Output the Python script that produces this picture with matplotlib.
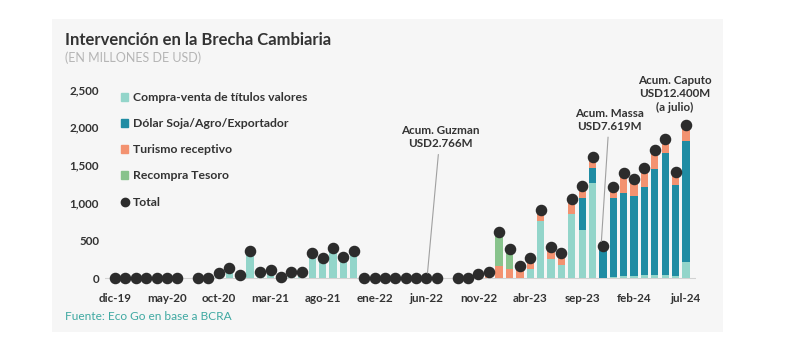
import numpy as np
import matplotlib
matplotlib.use('Agg')
import matplotlib.pyplot as plt
from matplotlib.patches import Rectangle, Patch
from matplotlib.lines import Line2D

plt.rcParams['font.family'] = ['Lato', 'DejaVu Sans']

nan = np.nan

meses = ['dic-19',
         'ene-20', 'feb-20', 'mar-20', 'abr-20', 'may-20', 'jun-20',
         'jul-20', 'ago-20', 'sep-20', 'oct-20', 'nov-20', 'dic-20',
         'ene-21', 'feb-21', 'mar-21', 'abr-21', 'may-21', 'jun-21',
         'jul-21', 'ago-21', 'sep-21', 'oct-21', 'nov-21', 'dic-21',
         'ene-22', 'feb-22', 'mar-22', 'abr-22', 'may-22', 'jun-22',
         'jul-22', 'ago-22', 'sep-22', 'oct-22', 'nov-22', 'dic-22',
         'ene-23', 'feb-23', 'mar-23', 'abr-23', 'may-23', 'jun-23',
         'jul-23', 'ago-23', 'sep-23', 'oct-23', 'nov-23', 'dic-23',
         'ene-24', 'feb-24', 'mar-24', 'abr-24', 'may-24', 'jun-24',
         'jul-24']

# millones de USD (nan = mes sin dato)
compra_venta = [0,
                0, 0, 0, 0, 0, 0,
                nan, 0, 5, 66, 132, 44,
                361, 87, 110, 21, 79, 87,
                330, 265, 405, 278, 361, 0,
                0, 0, 0, 0, 5, 0,
                0, nan, 0, 0, 0, 0,
                0, 0, 0, 120, 760, 250,
                176, 850, 640, 1265, 10, 20,
                30, 30, 45, 45, 45, 35,
                220]
dolar_soja = [0,
              0, 0, 0, 0, 0, 0,
              nan, 0, 0, 0, 0, 0,
              0, 0, 0, 0, 0, 0,
              0, 0, 0, 0, 0, 0,
              0, 0, 0, 0, 0, 0,
              0, nan, 0, 0, 0, 0,
              0, 0, 0, 0, 0, 0,
              0, 0, 430, 190, 390, 1038,
              1094, 1063, 1167, 1397, 1608, 1199,
              1600]
turismo = [0,
           0, 0, 0, 0, 0, 0,
           nan, 0, 0, 0, 0, 0,
           0, 0, 0, 0, 0, 0,
           0, 0, 0, 0, 0, 0,
           0, 0, 0, 0, 0, 0,
           0, nan, 0, 0, 53, 88,
           165, 128, 165, 145, 145, 160,
           163, 195, 150, 155, 27, 146,
           276, 217, 243, 255, 186, 168,
           208]
recompra = [0,
            0, 0, 0, 0, 0, 0,
            nan, 0, 0, 0, 0, 0,
            0, 0, 0, 0, 0, 0,
            0, 0, 0, 0, 0, 0,
            0, 0, 0, 0, 0, 0,
            0, nan, 0, 0, 0, 0,
            455, 262, 0, 0, 0, 0,
            0, 0, 0, 0, 0, 0,
            0, 0, 0, 0, 0, 0,
            0]

c_compra = '#93d5ca'
c_soja = '#1f8ca3'
c_turismo = '#f39270'
c_recompra = '#88c38c'
c_total = '#2c2c2c'
c_text = '#333333'

x = np.arange(len(meses))
cv = np.array(compra_venta, dtype=float)
ds = np.array(dolar_soja, dtype=float)
tu = np.array(turismo, dtype=float)
rc = np.array(recompra, dtype=float)
total = cv + ds + tu + rc

fig = plt.figure(figsize=(7.9, 3.51), dpi=100)
fig.patch.set_facecolor('white')
fig.patches.append(Rectangle((52 / 790, 1 - 332 / 351), (723 - 52) / 790, (332 - 19) / 351,
                             transform=fig.transFigure, facecolor='#f6f6f6',
                             edgecolor='none', zorder=-10))

ax = fig.add_axes([0.1324, 0.1897, 0.7491, 0.5727])
ax.set_facecolor('none')
ax.set_zorder(2)

w = 0.7
ax.bar(x, cv, w, color=c_compra, zorder=2)
ax.bar(x, ds, w, bottom=cv, color=c_soja, zorder=2)
ax.bar(x, tu, w, bottom=cv + ds, color=c_turismo, zorder=2)
ax.bar(x, rc, w, bottom=cv + ds + tu, color=c_recompra, zorder=2)
ax.plot(x, total, 'o', color=c_total, ms=7.3, zorder=3)
ax.axhline(0, color='#d2d2d2', lw=0.8, zorder=1)

ax.set_xlim(-1, 56)
ax.set_ylim(-80, 2580)
ax.set_yticks([0, 500, 1000, 1500, 2000, 2500])
ax.set_yticklabels(['0', '500', '1,000', '1,500', '2,000', '2,500'])
ax.set_xticks(x[::5])
ax.set_xticklabels(meses[::5])
ax.tick_params(length=0, labelsize=8.4, labelcolor=c_text, pad=6)
ax.tick_params(axis='y', pad=4)
for lab in ax.get_xticklabels() + ax.get_yticklabels():
    lab.set_fontweight('bold')
for s in ax.spines.values():
    s.set_visible(False)

# anotaciones
ax.annotate('Acum. Guzman\nUSD2.766M', xy=(30.1, 70), xytext=(31.3, 1870),
            ha='center', va='center', fontsize=8.4, fontweight='bold', color=c_text,
            linespacing=1.2,
            arrowprops=dict(arrowstyle='-', color='#a0a0a0', lw=0.8, shrinkA=2, shrinkB=0))
ax.annotate('Acum. Massa\nUSD7.619M', xy=(46.85, 490), xytext=(47.6, 2100),
            ha='center', va='center', fontsize=8.4, fontweight='bold', color=c_text,
            linespacing=1.2,
            arrowprops=dict(arrowstyle='-', color='#a0a0a0', lw=0.8, shrinkA=2, shrinkB=0))
ax.text(53.9, 2440, 'Acum. Caputo\nUSD12.400M\n(a julio)', ha='center', va='center',
        fontsize=8.4, fontweight='bold', color=c_text, linespacing=1.25)

handles = [Patch(color=c_compra), Patch(color=c_soja), Patch(color=c_turismo),
           Patch(color=c_recompra),
           Line2D([], [], marker='o', ls='none', color=c_total, ms=6)]
labels = ['Compra-venta de títulos valores', 'Dólar Soja/Agro/Exportador',
          'Turismo receptivo', 'Recompra Tesoro', 'Total']
leg = ax.legend(handles, labels, loc='upper left', bbox_to_anchor=(121 / 790, 1 - 92 / 351),
                bbox_transform=fig.transFigure, frameon=False, fontsize=8.8,
                handlelength=0.6, handleheight=0.6, handletextpad=0.35,
                labelspacing=1.24, borderpad=0, borderaxespad=0)
for t in leg.get_texts():
    t.set_color(c_text)
    t.set_fontweight('bold')

fig.text(65 / 790, 1 - 40 / 351, 'Intervención en la Brecha Cambiaria', fontsize=12,
         fontweight='bold', color=c_text, va='center', ha='left')
fig.text(65 / 790, 1 - 58 / 351, '(EN MILLONES DE USD)', fontsize=9, color='#b5b5b5',
         va='center', ha='left')
fig.text(65 / 790, 1 - 316 / 351, 'Fuente: Eco Go en base a BCRA', fontsize=8.6,
         color='#3fa9a2', va='center', ha='left')

fig.savefig('out.png', dpi=100, facecolor=fig.get_facecolor())
